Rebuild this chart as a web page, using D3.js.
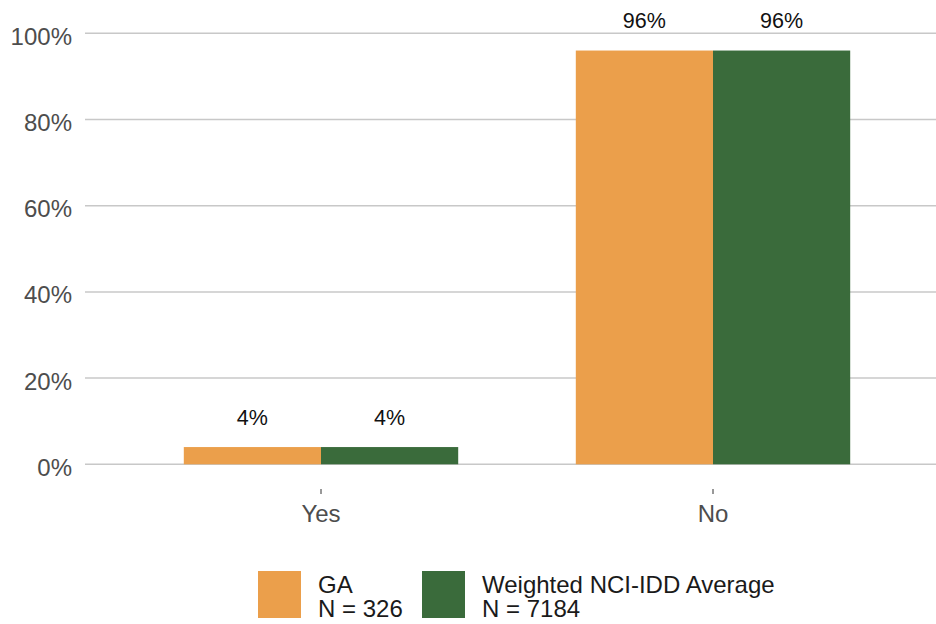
<!DOCTYPE html>
<html>
<head>
<meta charset="utf-8">
<script src="https://cdn.jsdelivr.net/npm/d3@7"></script>
<style>
  body { margin: 0; background: #fff; }
  svg { display: block; font-family: "Liberation Sans", Arial, sans-serif; }
</style>
</head>
<body>
<div id="chart"></div>
<script>
// chart data
const categories = ["Yes", "No"];
const seriesNames = ["GA", "Weighted NCI-IDD Average"];
const seriesN = [326, 7184];
const gaValues = [4, 96];
const nciValues = [4, 96];
const seriesColors = ["#eb9f4b", "#3a6b3b"];
const yTicks = [0, 20, 40, 60, 80, 100];

const width = 936, height = 624;

const svg = d3.select("#chart").append("svg")
	.attr("width", width)
	.attr("height", height);

// scales
const x0 = d3.scaleBand()
	.domain(categories)
	.range([125, 909])
	.paddingInner(0.3)
	.paddingOuter(0.15);

const x1 = d3.scaleBand()
	.domain(seriesNames)
	.range([0, x0.bandwidth()]);

const y = d3.scaleLinear()
	.domain([0, 100])
	.range([464.3, 33.3]);

// gridlines
svg.append("g")
	.selectAll("line")
	.data(yTicks)
	.join("line")
	.attr("x1", 85)
	.attr("x2", width)
	.attr("y1", d => y(d))
	.attr("y2", d => y(d))
	.attr("stroke", "#c8c8c8")
	.attr("stroke-width", 1.5);

// y axis labels
svg.append("g")
	.selectAll("text")
	.data(yTicks)
	.join("text")
	.attr("x", 72)
	.attr("y", d => y(d) + 11.5)
	.attr("text-anchor", "end")
	.attr("fill", "#4d4d4d")
	.style("font-size", "24px")
	.text(d => d + "%");

// bars
const rows = categories.map((c, i) => ({ cat: c, vals: [gaValues[i], nciValues[i]] }));

const groups = svg.append("g")
	.selectAll("g")
	.data(rows)
	.join("g")
	.attr("transform", d => `translate(${x0(d.cat)},0)`);

groups.selectAll("rect")
	.data(d => d.vals.map((v, j) => ({ name: seriesNames[j], v: v, color: seriesColors[j] })))
	.join("rect")
	.attr("x", d => x1(d.name))
	.attr("y", d => y(d.v))
	.attr("width", x1.bandwidth())
	.attr("height", d => y(0) - y(d.v))
	.attr("fill", d => d.color);

groups.selectAll("text")
	.data(d => d.vals.map((v, j) => ({ name: seriesNames[j], v: v })))
	.join("text")
	.attr("x", d => x1(d.name) + x1.bandwidth() / 2)
	.attr("y", d => y(d.v) - 22.5)
	.attr("text-anchor", "middle")
	.attr("fill", "#111")
	.style("font-size", "21.5px")
	.text(d => d.v + "%");

// x axis ticks and labels
const xAxis = svg.append("g");
xAxis.selectAll("line")
	.data(categories)
	.join("line")
	.attr("x1", d => x0(d) + x0.bandwidth() / 2)
	.attr("x2", d => x0(d) + x0.bandwidth() / 2)
	.attr("y1", 489)
	.attr("y2", 494)
	.attr("stroke", "#333")
	.attr("stroke-width", 1);

xAxis.selectAll("text")
	.data(categories)
	.join("text")
	.attr("x", d => x0(d) + x0.bandwidth() / 2)
	.attr("y", 522)
	.attr("text-anchor", "middle")
	.attr("fill", "#4d4d4d")
	.style("font-size", "24px")
	.text(d => d);

// legend
const legendX = [258, 422];
const legend = svg.append("g")
	.selectAll("g")
	.data(seriesNames)
	.join("g")
	.attr("transform", (d, i) => `translate(${legendX[i]},571)`);

legend.append("rect")
	.attr("width", 43)
	.attr("height", 47)
	.attr("fill", (d, i) => seriesColors[i]);

legend.append("text")
	.attr("x", 60)
	.attr("y", 22.3)
	.attr("fill", "#1a1a1a")
	.style("font-size", "24px")
	.text(d => d);

legend.append("text")
	.attr("x", 60)
	.attr("y", 46.3)
	.attr("fill", "#1a1a1a")
	.style("font-size", "24px")
	.text((d, i) => "N = " + seriesN[i]);
</script>
</body>
</html>
